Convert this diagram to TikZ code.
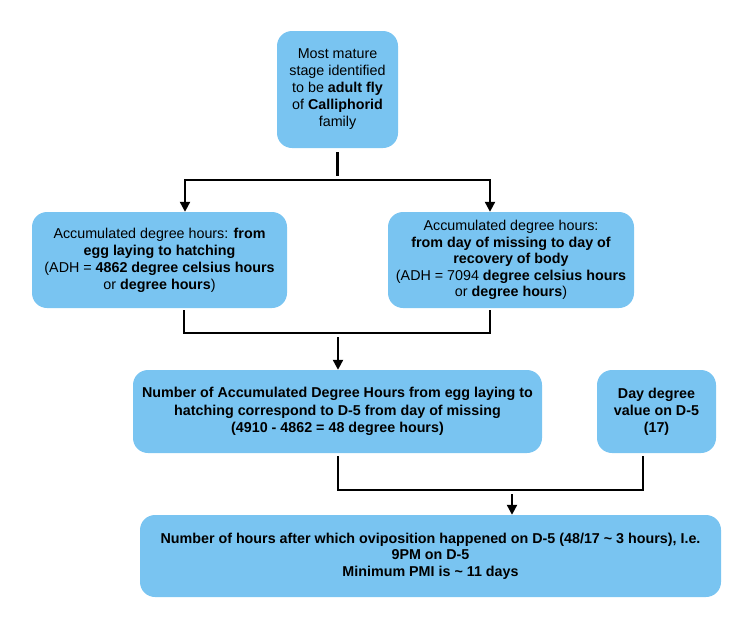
\documentclass[tikz,border=0pt]{standalone}
\usepackage{fontspec}
\setmainfont{Liberation Sans}
\usetikzlibrary{arrows.meta}
\definecolor{boxblue}{RGB}{121,196,241}
\begin{document}
\begin{tikzpicture}[x=1pt,y=-1pt,
  box/.style={fill=boxblue, rounded corners=15pt, align=center, inner sep=0pt,
    text=black},
  fs/.style={font=\fontsize{14.3}{17}\selectfont},
  conn/.style={line width=2.2pt, black, line cap=rect},
  arr/.style={line width=2.2pt, black, -{Triangle[width=10pt,length=10pt]}}]
\useasboundingbox (0,0) rectangle (750,643);

\node[box, fs, minimum width=121pt, minimum height=117pt] (top) at (337.5,89.5)
  {Most mature\\stage identified\\to be \textbf{adult fly}\\of \textbf{Calliphorid}\\family};
\node[box, fs, minimum width=255pt, minimum height=96pt] (left) at (159.5,260)
  {Accumulated degree hours: \textbf{from}\\\textbf{egg laying to hatching}\\(ADH = \textbf{4862 degree celsius hours}\\or \textbf{degree hours})};
\node[box, font=\fontsize{14.3}{16.5}\selectfont, minimum width=246pt, minimum height=96pt] (right) at (511,260)
  {Accumulated degree hours:\\\textbf{from day of missing to day of}\\\textbf{recovery of body}\\(ADH = 7094 \textbf{degree celsius hours}\\or \textbf{degree hours})};
\node[box, font=\fontsize{14.3}{17.5}\selectfont\bfseries, minimum width=409pt, minimum height=83pt] (mid) at (337.5,411.5)
  {Number of Accumulated Degree Hours from egg laying to\\hatching correspond to D-5 from day of missing\\(4910 - 4862 = 48 degree hours)};
\node[box, font=\fontsize{14.3}{17}\selectfont\bfseries, minimum width=119pt, minimum height=83pt] (day) at (656.5,411.5)
  {Day degree\\value on D-5\\(17)};
\node[box, font=\fontsize{14.3}{16.5}\selectfont\bfseries, minimum width=581pt, minimum height=82pt] (bottom) at (430.5,556)
  {Number of hours after which oviposition happened on D-5 (48/17 \textasciitilde{} 3 hours), I.e.\\9PM on D-5\\Minimum PMI is \textasciitilde{} 11 days};

% first split
\coordinate (j1l) at (185,180);
\coordinate (j1r) at (490,180);
\draw[conn] ([yshift=-5pt]top.south) -- ([yshift=-27pt]top.south);
\draw[conn] (j1l) -- (j1r);
\draw[arr] (j1l) -- (left.north -| j1l);
\draw[arr] (j1r) -- (right.north -| j1r);

% first merge
\coordinate (j2l) at (184,333);
\coordinate (j2r) at (490,333);
\draw[conn, shorten <=3pt] (left.south -| j2l) -- (j2l);
\draw[conn] (j2l) -- (j2r);
\draw[conn, shorten <=3pt] (right.south -| j2r) -- (j2r);
\coordinate (a2) at (338,337);
\draw[arr] (a2) -- (mid.north -| a2);

% second merge
\coordinate (j3l) at (338,490);
\coordinate (j3r) at (643,490);
\draw[conn, shorten <=4pt] (mid.south -| j3l) -- (j3l);
\draw[conn] (j3l) -- (j3r);
\draw[conn, shorten <=4pt] (day.south -| j3r) -- (j3r);
\coordinate (a3) at (512,494);
\draw[arr] (a3) -- (bottom.north -| a3);
\end{tikzpicture}
\end{document}
